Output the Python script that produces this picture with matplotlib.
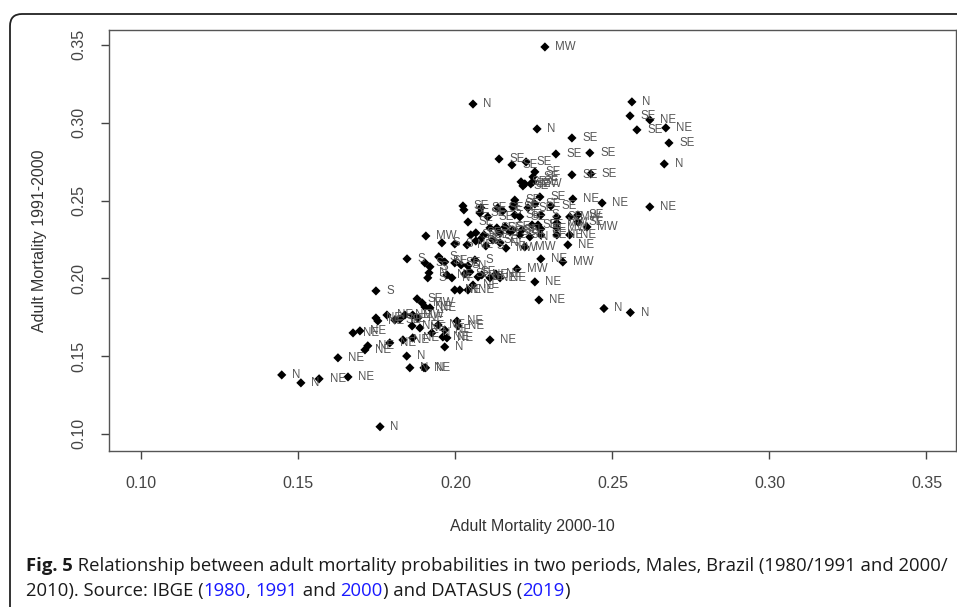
import numpy as np
import matplotlib
matplotlib.use("Agg")
import matplotlib.pyplot as plt
from matplotlib.patches import FancyBboxPatch
from matplotlib.transforms import IdentityTransform

# adult mortality 2000-10 (x), 1991-2000 (y), region of each point
mort_2000_10 = [
    0.2285, 0.2056, 0.2562, 0.2556, 0.2619, 0.2670, 0.2578, 0.2680, 0.2665, 0.2260,
    0.2371, 0.2320, 0.2428, 0.2139, 0.2180, 0.2225, 0.2253, 0.2247, 0.2371, 0.2431,
    0.2209, 0.2221, 0.2240, 0.2215, 0.2269, 0.2374, 0.2467, 0.2619, 0.2189, 0.2186,
    0.2253, 0.2024, 0.2027, 0.2081, 0.2078, 0.2135, 0.2151, 0.2304, 0.2103, 0.2189,
    0.2205, 0.2272, 0.2323, 0.2364, 0.2390, 0.2040, 0.2110, 0.2132, 0.2158, 0.2183,
    0.2212, 0.2244, 0.2272, 0.2323, 0.2323, 0.2419, 0.2390, 0.2065, 0.2091, 0.2142,
    0.2174, 0.2205, 0.2237, 0.2272, 0.2323, 0.2364, 0.1906, 0.1957, 0.1998, 0.2037,
    0.2065, 0.2078, 0.2097, 0.2119, 0.2142, 0.2221, 0.2358, 0.1846, 0.1903, 0.1919,
    0.1947, 0.1957, 0.1966, 0.1998, 0.2040, 0.2062, 0.2272, 0.2342, 0.2196, 0.1916,
    0.1912, 0.1989, 0.2030, 0.2046, 0.2072, 0.2129, 0.2142, 0.2253, 0.1747, 0.1998,
    0.2014, 0.2040, 0.2056, 0.2266, 0.1878, 0.1894, 0.1903, 0.1747, 0.1782, 0.1753,
    0.1807, 0.1823, 0.1839, 0.1864, 0.1880, 0.1887, 0.1862, 0.1674, 0.1696, 0.1721,
    0.1712, 0.1791, 0.1833, 0.1864, 0.1626, 0.1845, 0.1855, 0.1900, 0.1905, 0.1447,
    0.1508, 0.1566, 0.1658, 0.1760, 0.1919, 0.1945, 0.1966, 0.1925, 0.1960, 0.1973,
    0.1966, 0.2005, 0.2008, 0.2110, 0.2473, 0.2557, 0.2161, 0.2247, 0.2231, 0.2183,
    0.2263, 0.2049, 0.1973, 0.2084, 0.2110, 0.2018,
]
mort_1991_2000 = [
    0.3487, 0.3120, 0.3134, 0.3044, 0.3018, 0.2967, 0.2954, 0.2870, 0.2735, 0.2960,
    0.2902, 0.2799, 0.2806, 0.2767, 0.2729, 0.2748, 0.2684, 0.2652, 0.2665, 0.2671,
    0.2620, 0.2607, 0.2607, 0.2594, 0.2523, 0.2510, 0.2484, 0.2459, 0.2503, 0.2478,
    0.2478, 0.2465, 0.2440, 0.2453, 0.2420, 0.2453, 0.2433, 0.2465, 0.2395, 0.2407,
    0.2395, 0.2407, 0.2395, 0.2395, 0.2407, 0.2362, 0.2324, 0.2324, 0.2330, 0.2311,
    0.2311, 0.2343, 0.2317, 0.2356, 0.2324, 0.2330, 0.2362, 0.2292, 0.2279, 0.2292,
    0.2298, 0.2279, 0.2266, 0.2279, 0.2279, 0.2279, 0.2272, 0.2228, 0.2221, 0.2215,
    0.2240, 0.2247, 0.2208, 0.2247, 0.2228, 0.2202, 0.2215, 0.2125, 0.2099, 0.2074,
    0.2138, 0.2112, 0.2105, 0.2099, 0.2080, 0.2118, 0.2125, 0.2105, 0.2060, 0.2035,
    0.2003, 0.2003, 0.2028, 0.2041, 0.2009, 0.2028, 0.2003, 0.1977, 0.1919, 0.1925,
    0.1925, 0.1925, 0.1957, 0.1861, 0.1868, 0.1842, 0.1816, 0.1745, 0.1764, 0.1726,
    0.1732, 0.1738, 0.1764, 0.1764, 0.1745, 0.1681, 0.1694, 0.1649, 0.1662, 0.1566,
    0.1540, 0.1585, 0.1604, 0.1617, 0.1489, 0.1500, 0.1425, 0.1425, 0.1425, 0.1379,
    0.1328, 0.1354, 0.1366, 0.1046, 0.1810, 0.1700, 0.1668, 0.1649, 0.1623, 0.1617,
    0.1559, 0.1725, 0.1694, 0.1604, 0.1806, 0.1780, 0.2194, 0.2620, 0.2453, 0.2459,
    0.2343, 0.2279, 0.2022, 0.2022, 0.2003, 0.2086,
]
region = [
    "MW", "N", "N", "SE", "NE", "NE", "SE", "SE", "N", "N",
    "SE", "SE", "SE", "SE", "SE", "SE", "SE", "SE", "SE", "SE",
    "SE", "SE", "MW", "SE", "SE", "NE", "NE", "NE", "SE", "SE",
    "SE", "SE", "SE", "SE", "SE", "SE", "S", "SE", "SE", "SE",
    "SE", "S", "SE", "MW", "SE", "SE", "SE", "SE", "SE", "SE",
    "N", "SE", "SE", "MW", "MW", "MW", "SE", "SE", "SE", "S",
    "SE", "SE", "N", "SE", "NE", "NE", "MW", "S", "S", "NE",
    "SE", "S", "S", "SE", "NE", "MW", "NE", "S", "S", "S",
    "S", "SE", "N", "SE", "N", "S", "NE", "MW", "MW", "N",
    "S", "N", "SE", "SE", "NE", "NE", "NE", "NE", "S", "NE",
    "N", "NE", "NE", "NE", "SE", "MW", "NE", "NE", "NE", "NE",
    "SE", "NE", "NE", "MW", "NE", "NE", "NE", "NE", "NE", "NE",
    "NE", "NE", "NE", "NE", "NE", "N", "N", "NE", "N", "N",
    "N", "NE", "NE", "N", "NE", "NE", "NE", "N", "NE", "NE",
    "N", "NE", "NE", "NE", "N", "N", "MW", "SE", "SE", "SE",
    "SE", "SE", "NE", "NE", "NE", "S",
]

x_ticks = [0.10, 0.15, 0.20, 0.25, 0.30, 0.35]
y_ticks = [0.10, 0.15, 0.20, 0.25, 0.30, 0.35]

plt.rcParams['font.family'] = ['Liberation Sans', 'DejaVu Sans']
W, H = 957, 607
fig = plt.figure(figsize=(W / 100, H / 100), dpi=100)

# rounded frame around figure + caption
frame = FancyBboxPatch((10, -30), 1000, H - 14 + 30,
                       boxstyle="round,pad=0,rounding_size=12",
                       transform=IdentityTransform(), fill=False,
                       edgecolor="#222222", linewidth=1.3)
fig.patches.append(frame)

ax = fig.add_axes([109 / W, 1 - 451 / H, (956 - 109) / W, (451 - 30) / H])
ax.scatter(mort_2000_10, mort_1991_2000, marker="D", s=22, color="black",
           edgecolors="none", zorder=3)
for xv, yv, lab in zip(mort_2000_10, mort_1991_2000, region):
    ax.annotate(lab, (xv, yv), xytext=(7.5, 0), textcoords="offset points",
                va="center", ha="left", fontsize=8.3, color="#555555")

ax.set_xlim(0.0897, 0.3594)
ax.set_ylim(0.0890, 0.3596)
ax.set_xticks(x_ticks)
ax.set_yticks(y_ticks)
ax.set_xticklabels([f"{t:.2f}" for t in x_ticks])
ax.set_yticklabels([f"{t:.2f}" for t in y_ticks], rotation=90, va="center")
ax.tick_params(direction="out", length=6, width=1, colors="#444444",
               labelsize=11.5)
ax.tick_params(axis="x", pad=12)
ax.tick_params(axis="y", pad=10)
for sp in ax.spines.values():
    sp.set_color("#555555")
    sp.set_linewidth(1)
ax.set_xlabel("Adult Mortality 2000-10", fontsize=11.5, color="#333333", labelpad=20)
ax.set_ylabel("Adult Mortality 1991-2000", fontsize=11.5, color="#333333", labelpad=18)

# caption with coloured years
renderer = fig.canvas.get_renderer()


def write_line(x_px, y_px, parts):
    for txt, col, wt in parts:
        t = fig.text(x_px / W, 1 - y_px / H, txt, color=col, fontweight=wt,
                     fontsize=13.3, family=["Open Sans", "DejaVu Sans"],
                     va="baseline", ha="left")
        bb = t.get_window_extent(renderer)
        x_px = bb.x1


write_line(26, 571, [
    ("Fig. 5", "#1a1a1a", "bold"),
    (" Relationship between adult mortality probabilities in two periods, Males, Brazil (1980/1991 and 2000/",
     "#1a1a1a", "normal"),
])
blue = "#1a1aff"
write_line(26, 596, [
    ("2010). Source: IBGE (", "#1a1a1a", "normal"),
    ("1980", blue, "normal"),
    (", ", "#1a1a1a", "normal"),
    ("1991", blue, "normal"),
    (" and ", "#1a1a1a", "normal"),
    ("2000", blue, "normal"),
    (") and DATASUS (", "#1a1a1a", "normal"),
    ("2019", blue, "normal"),
    (")", "#1a1a1a", "normal"),
])

fig.savefig("out.png", dpi=100)
